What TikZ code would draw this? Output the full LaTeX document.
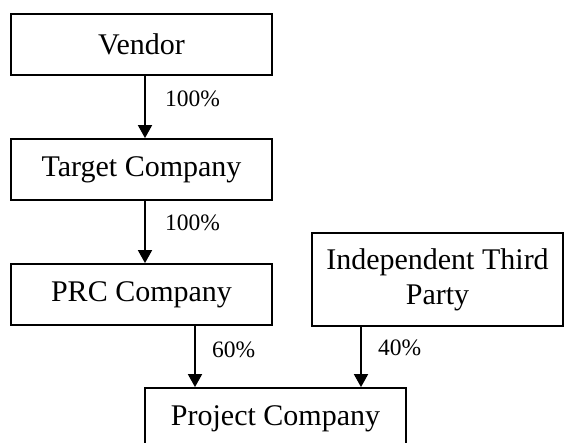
\documentclass[tikz,border=0pt]{standalone}
\usepackage{fontspec}
\setmainfont{Liberation Serif}
\usetikzlibrary{arrows.meta}
\begin{document}
\begin{tikzpicture}[x=1pt,y=-1pt,
  box/.style={draw=black,line width=1.8pt,rectangle,inner sep=0pt,font=\fontsize{30}{35}\selectfont,align=center},
  conn/.style={line width=1.8pt,-{Triangle[length=13pt,width=14pt]}},
  pct/.style={font=\fontsize{23.5}{27}\selectfont,anchor=west,inner sep=0pt}]
\useasboundingbox (0,0) rectangle (564,442);
\node[box,minimum width=261pt,minimum height=61pt] (vendor) at (141.5,44.5) {Vendor};
\node[box,minimum width=261pt,minimum height=61pt] (target) at (141.5,169.5) {Target Company};
\node[box,minimum width=261pt,minimum height=61pt] (prc) at (141.5,294.5) {PRC Company};
\node[box,minimum width=251pt,minimum height=93pt] (itp) at (437.5,279.5) {Independent Third\\Party};
\node[box,minimum width=261pt,minimum height=61pt] (proj) at (275.5,418.5) {Project Company};
\coordinate (a1) at (145,0);
\coordinate (a2) at (195,0);
\coordinate (a3) at (361,0);
\draw[conn] (vendor.south -| a1) -- (target.north -| a1);
\draw[conn] (target.south -| a1) -- (prc.north -| a1);
\draw[conn] (prc.south -| a2) -- (proj.north -| a2);
\draw[conn] (itp.south -| a3) -- (proj.north -| a3);
\node[pct] (l1) at (165,99) {100\%};
\node[pct] (l2) at (165,223) {100\%};
\node[pct] (l3) at (212,350) {60\%};
\node[pct] (l4) at (378,348) {40\%};
\end{tikzpicture}
\end{document}
